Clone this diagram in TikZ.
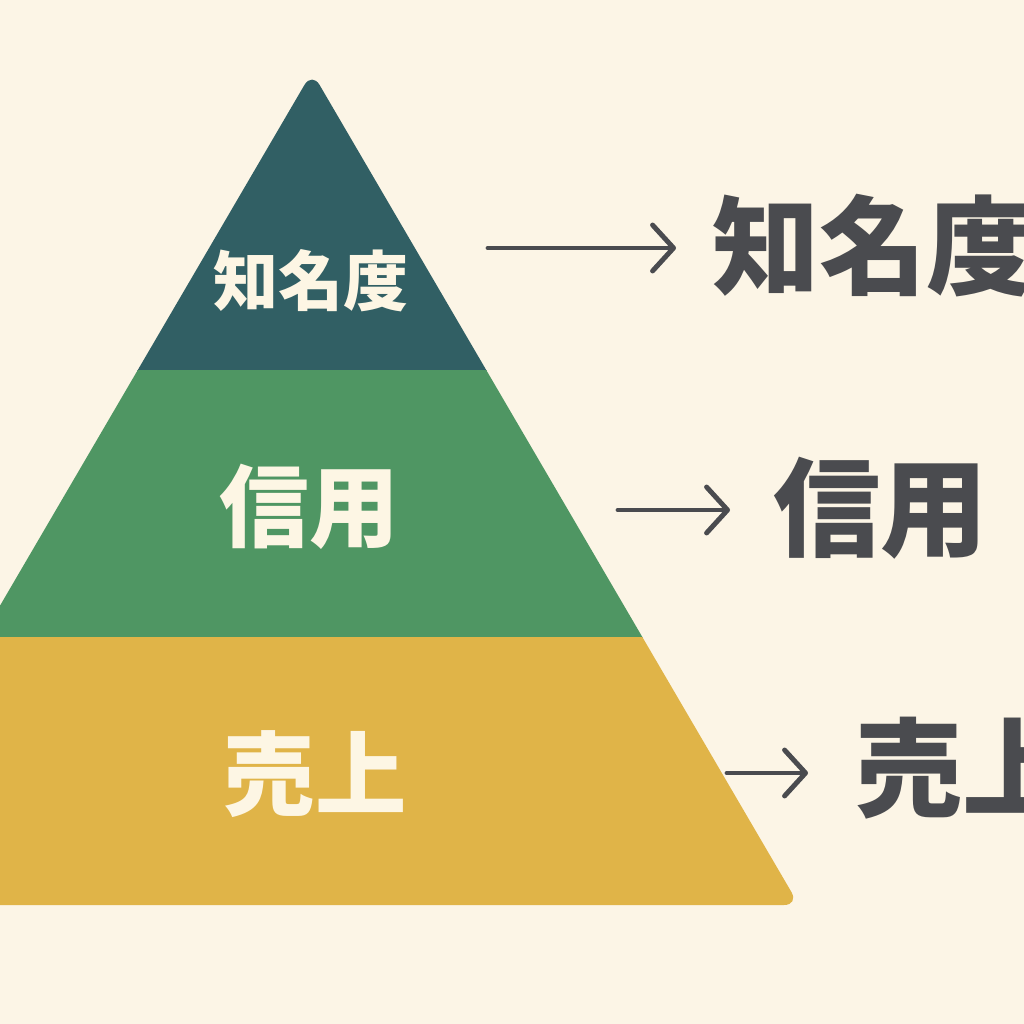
\documentclass[tikz,border=0pt]{standalone}
\usepackage{fontspec}
\newfontfamily\jpfont{Noto Sans CJK JP}
\usetikzlibrary{arrows.meta}
\definecolor{bgcream}{HTML}{FCF5E6}
\definecolor{tiertop}{HTML}{315F64}
\definecolor{tiermid}{HTML}{4F9663}
\definecolor{tierlow}{HTML}{E0B448}
\definecolor{textcream}{HTML}{FDF6E4}
\definecolor{textgray}{HTML}{4A4B4F}
\begin{document}
\begin{tikzpicture}[x=0.02cm,y=-0.02cm]
	\tikzset{tierlabel/.style = {text=textcream,font=\jpfont\bfseries,inner sep=0pt}}
	\tikzset{sidelabel/.style = {text=textgray,font=\jpfont\bfseries\fontsize{61}{61}\selectfont,inner sep=0pt,anchor=west}}
	\tikzset{pointer/.style = {draw=textgray,line width=2.8pt,line cap=round,-{Straight Barb[length=0.42cm,width=0.92cm,round]}}}
	\useasboundingbox (0,0) rectangle (1024,1024);
	\fill[bgcream] (0,0) rectangle (1024,1024);
	\coordinate (apex) at (312,72);
	\coordinate (left) at (-175,905);
	\coordinate (right) at (799,905);
	\begin{scope}
		\clip (0,0) rectangle (1024,1024);
		\foreach \ytop/\ybot/\col in {0/370/tiertop,370/637/tiermid,637/1000/tierlow}{
			\begin{scope}
				\clip (-300,\ytop) rectangle (1100,\ybot);
				\fill[\col,rounded corners=0.3cm] (apex) -- (right) -- (left) -- cycle;
			\end{scope}
		}
	\end{scope}
	\node[tierlabel,font=\jpfont\bfseries\fontsize{37}{37}\selectfont] (t1) at (311,281) {知名度};
	\node[tierlabel,font=\jpfont\bfseries\fontsize{51}{51}\selectfont] (t2) at (309,507) {信用};
	\node[tierlabel,font=\jpfont\bfseries\fontsize{52}{52}\selectfont] (t3) at (315,774) {売上};
	\node[sidelabel] (s1) at (712,246) {知名度};
	\node[sidelabel] (s2) at (773,508) {信用};
	\node[sidelabel] (s3) at (855,768) {売上};
	\coordinate (p1) at (488,248);
	\coordinate (p2) at (618,510);
	\coordinate (p3) at (727,773);
	\draw[pointer,shorten >=0.72cm] (p1) -- (p1 -| s1.west);
	\draw[pointer,shorten >=0.86cm] (p2) -- (p2 -| s2.west);
	\draw[pointer,shorten >=0.94cm] (p3) -- (p3 -| s3.west);
\end{tikzpicture}
\end{document}
